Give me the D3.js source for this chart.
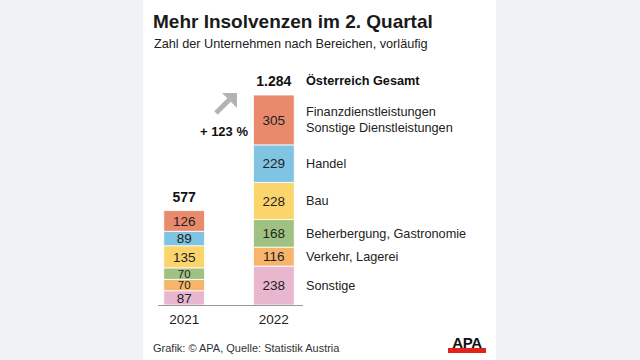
<!DOCTYPE html>
<html><head><meta charset="utf-8">
<script src="https://cdn.jsdelivr.net/npm/d3@7"></script>
<style>
html,body{margin:0;padding:0;background:#f1f2f4;}
svg{display:block;font-family:"Liberation Sans",Arial,sans-serif;}
</style></head>
<body><svg id="c" width="640" height="360"></svg>
<script>
const years = ["2021", "2022"];
const sectors = ["Sonstige", "Verkehr, Lagerei", "Beherbergung, Gastronomie", "Bau", "Handel", "Finanzdienstleistungen\nSonstige Dienstleistungen"];
const values2021 = [87, 70, 70, 135, 89, 126];
const values2022 = [238, 116, 168, 228, 229, 305];
const totals = ["577", "1.284"];
const totalLabel = "Österreich Gesamt";
const changeLabel = "+ 123 %";
const colors = ["#e9b6cf", "#f7b56c", "#9fc282", "#fbd56b", "#7fc4e3", "#e98a6c"];

const svg = d3.select("#c");
svg.append("rect").attr("x", 143).attr("y", 0).attr("width", 353).attr("height", 360).attr("fill", "#fff");

svg.append("text").attr("x", 153).attr("y", 28).attr("font-size", 19).attr("font-weight", "bold").attr("fill", "#1a1a1a").text("Mehr Insolvenzen im 2. Quartal");
svg.append("text").attr("x", 154).attr("y", 48).attr("font-size", 12.7).attr("fill", "#222").text("Zahl der Unternehmen nach Bereichen, vorläufig");

const x = d3.scaleBand().domain(years).range([119, 339]).paddingInner(0.5444).paddingOuter(0.5);
const y = d3.scaleLinear().domain([0, 1284]).range([305, 95]);

const data = [values2021, values2022];
data.forEach((vals, i) => {
  const g = svg.append("g");
  let acc = 0;
  vals.forEach((v, j) => {
    const y0 = y(acc), y1 = y(acc + v);
    g.append("rect").attr("x", x(years[i])).attr("width", x.bandwidth())
      .attr("y", y1).attr("height", y0 - y1).attr("fill", colors[j])
      .attr("stroke", "#fff").attr("stroke-width", 0.8);
    const fs = (i === 0 && v < 80) ? 11.5 : 13.5;
    g.append("text").attr("x", x(years[i]) + x.bandwidth() / 2).attr("y", (y0 + y1) / 2 + fs * 0.36)
      .attr("text-anchor", "middle").attr("font-size", fs).attr("fill", "#222").text(v);
    acc += v;
  });
  svg.append("text").attr("x", x(years[i]) + x.bandwidth() / 2).attr("y", y(acc) - 9)
    .attr("text-anchor", "middle").attr("font-size", 14).attr("font-weight", "bold").attr("fill", "#111").text(totals[i]);
});

// axis
const axis = d3.axisBottom(x).tickSize(0).tickPadding(9);
const ax = svg.append("g").attr("transform", "translate(0,305)").call(axis);
ax.select(".domain").attr("d", "M158,0.5H303").attr("stroke", "#999").attr("stroke-width", 1.2);
ax.selectAll("text").attr("font-size", 13.5).attr("fill", "#222").attr("font-family", "Liberation Sans, Arial, sans-serif");

// legend labels beside 2022 bar
let acc2 = 0;
const lx = 306;
values2022.forEach((v, j) => {
  const mid = y(acc2 + v / 2);
  const lines = sectors[j].split("\n");
  lines.forEach((ln, k) => {
    svg.append("text").attr("x", lx).attr("y", mid + 4.5 + (k - (lines.length - 1) / 2) * 16)
      .attr("font-size", 12.7).attr("fill", "#222").text(ln);
  });
  acc2 += v;
});
svg.append("text").attr("x", lx).attr("y", 85).attr("font-size", 12.7).attr("font-weight", "bold").attr("fill", "#111").text(totalLabel);

// arrow
const ag = svg.append("g");
ag.append("line").attr("x1", 216).attr("y1", 113).attr("x2", 231).attr("y2", 98).attr("stroke", "#b3b3b3").attr("stroke-width", 5);
ag.append("path").attr("d", "M237,93 L237,108 L222,93 Z").attr("fill", "#b3b3b3");
svg.append("text").attr("x", 248).attr("y", 136).attr("text-anchor", "end").attr("font-size", 13).attr("font-weight", "bold").attr("fill", "#111").text(changeLabel);

// footer
svg.append("text").attr("x", 153).attr("y", 352).attr("font-size", 11).attr("fill", "#333").text("Grafik: © APA, Quelle: Statistik Austria");
svg.append("text").attr("x", 467).attr("y", 348).attr("text-anchor", "middle").attr("font-size", 15).attr("font-weight", "bold").attr("fill", "#111").attr("letter-spacing", -0.3).text("APA");
svg.append("rect").attr("x", 448).attr("y", 348).attr("width", 38).attr("height", 5).attr("fill", "#e2231a");
</script></body></html>
